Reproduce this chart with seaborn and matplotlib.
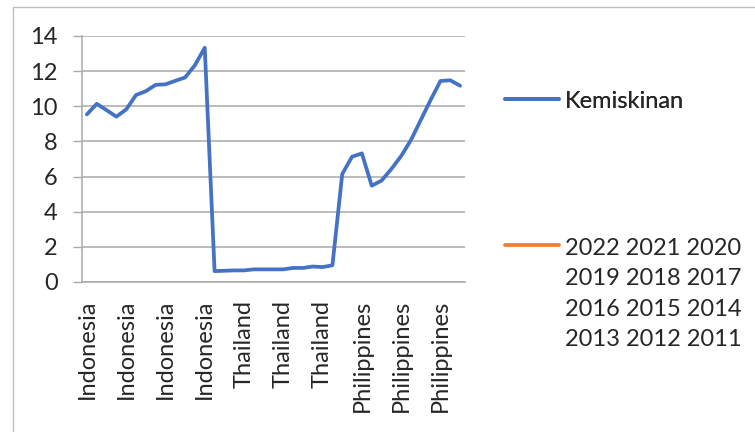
import numpy as np
import pandas as pd
import seaborn as sns
import matplotlib.pyplot as plt
from matplotlib.lines import Line2D
from matplotlib.legend_handler import HandlerLine2D

# values (13 points per country)
indonesia = [9.54, 10.14, 9.78, 9.41, 9.82, 10.64, 10.86, 11.22, 11.25,
             11.45, 11.64, 12.34, 13.33]
thailand = [0.62, 0.64, 0.66, 0.66, 0.72, 0.72, 0.72, 0.72, 0.80, 0.80,
            0.88, 0.85, 0.95]
philippines = [6.15, 7.13, 7.32, 5.48, 5.77, 6.43, 7.17, 8.08, 9.22,
               10.36, 11.44, 11.48, 11.17]
countries = ['Indonesia', 'Thailand', 'Philippines']
series_name = 'Kemiskinan'
years_label = '2022 2021 2020\n2019 2018 2017\n2016 2015 2014\n2013 2012 2011'
yticks = [0, 2, 4, 6, 8, 10, 12, 14]

BLUE = '#4472C4'
ORANGE = '#ED7D31'
GRID = '#a9a9a9'
LINE_PX = 32.7  # spacing between legend text lines


class TopLineHandler(HandlerLine2D):
    """put the legend line next to the first line of a multi-line label"""
    def __init__(self, shift, **kw):
        super().__init__(**kw)
        self.shift = shift

    def create_artists(self, legend, orig_handle, xdescent, ydescent,
                       width, height, fontsize, trans):
        arts = super().create_artists(legend, orig_handle, xdescent,
                                      ydescent, width, height, fontsize,
                                      trans)
        for a in arts:
            a.set_ydata(np.asarray(a.get_ydata()) + self.shift)
        return arts


def build_frame():
    values = indonesia + thailand + philippines
    labels = []
    for name, vals in zip(countries, [indonesia, thailand, philippines]):
        labels += [name] * len(vals)
    return pd.DataFrame({'idx': np.arange(len(values)), 'country': labels,
                         'value': values})


def main():
    df = build_frame()
    sns.set_style('white')
    plt.rcParams['font.family'] = ['Lato', 'DejaVu Sans']
    fs = 17

    fig = plt.figure(figsize=(7.55, 4.32), dpi=100)
    ax = fig.add_axes([82 / 755, 1 - 282 / 432, (465 - 82) / 755,
                       (282 - 36) / 432])
    sns.lineplot(data=df, x='idx', y='value', ax=ax, color=BLUE,
                 linewidth=2.7, legend=False)

    n = len(df)
    ax.set_xlim(-0.5, n - 0.5)
    ax.set_ylim(0, 14)
    ax.set_yticks(yticks)
    ax.set_yticklabels([str(t) for t in yticks], fontsize=fs)
    ax.yaxis.grid(True, color=GRID, linewidth=1.1)
    ax.set_axisbelow(True)

    # category labels every 4th point, tick marks between categories
    tick_pos = df['idx'].values[::4]
    ax.set_xticks(tick_pos)
    ax.set_xticklabels(df['country'].values[::4], rotation=90, fontsize=fs,
                       va='top', ha='center')
    ax.set_xticks(np.arange(-0.5, n, 1.0), minor=True)
    ax.tick_params(axis='x', which='major', length=0, pad=13)
    ax.tick_params(axis='x', which='minor', length=4.3, color=GRID,
                   width=1.0, direction='out')
    ax.tick_params(axis='y', length=6.5, color=GRID, width=1.0, pad=11,
                   direction='out', left=True)
    ax.set_xlabel('')
    ax.set_ylabel('')
    for side in ['top', 'right']:
        ax.spines[side].set_visible(False)
    for side in ['left', 'bottom']:
        ax.spines[side].set_color(GRID)
        ax.spines[side].set_linewidth(1.1)

    # legend entries
    h1 = Line2D([], [], color=BLUE, linewidth=2.7)
    h2 = Line2D([], [], color=ORANGE, linewidth=2.7)
    leg_kw = dict(frameon=False, fontsize=fs, handlelength=2.3,
                  handletextpad=0.25, borderaxespad=0, borderpad=0)
    leg1 = fig.legend([h1], [series_name], loc='center left',
                      bbox_to_anchor=(505 / 755, 1 - 101 / 432), **leg_kw)
    fig.add_artist(leg1)
    shift_pt = 1.5 * LINE_PX * 72 / 100
    leg2 = fig.legend([h2], [years_label], loc='center left',
                      bbox_to_anchor=(505 / 755, 1 - (245 + 1.5 * LINE_PX) / 432),
                      handler_map={h2: TopLineHandler(shift_pt)}, **leg_kw)
    for t in leg2.get_texts():
        t.set_linespacing(1.56)

    # chart area border (partly cut off in the reference)
    fig.add_artist(Line2D([13 / 755, 1], [1 - 7 / 432, 1 - 7 / 432],
                          transform=fig.transFigure, color='#bfbfbf',
                          linewidth=1.0))
    fig.add_artist(Line2D([13 / 755, 13 / 755], [0, 1 - 7 / 432],
                          transform=fig.transFigure, color='#bfbfbf',
                          linewidth=1.0))

    fig.savefig('out.png', dpi=100)
    plt.close(fig)


if __name__ == '__main__':
    main()
